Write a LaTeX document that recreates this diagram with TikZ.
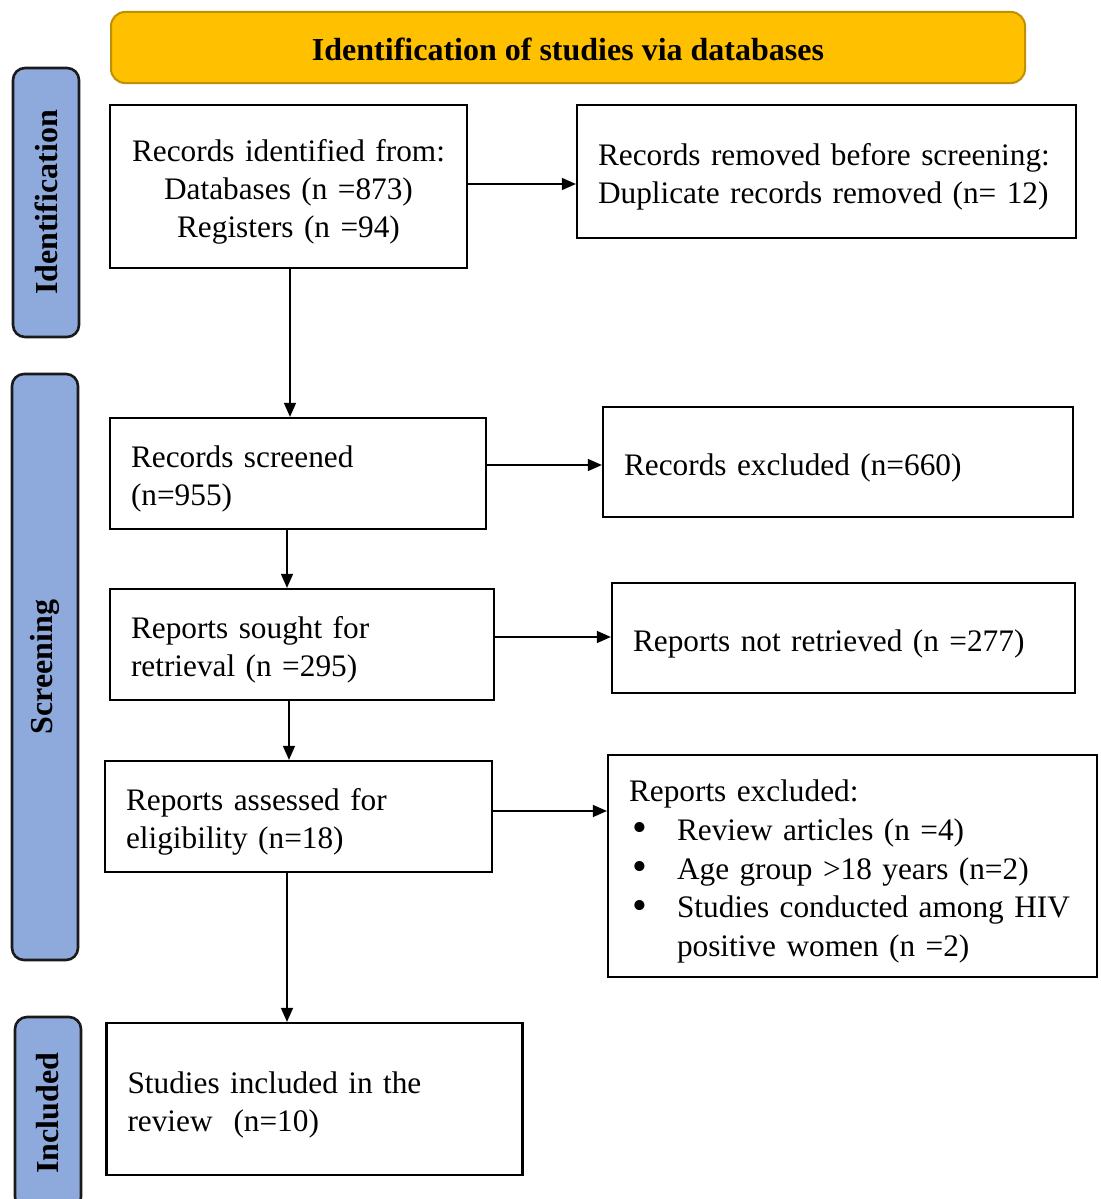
\documentclass[tikz,border=0pt]{standalone}
\usepackage{fontspec}
\setmainfont{Liberation Serif}
\usetikzlibrary{arrows.meta}
\definecolor{hdrfill}{HTML}{FFC000}
\definecolor{hdrdraw}{HTML}{BF9000}
\definecolor{sidefill}{HTML}{8EA9DB}
\definecolor{sidedraw}{HTML}{1A1A1A}
\tikzset{
  box/.style={draw=black, line width=2.2pt, rectangle, inner xsep=21pt, inner ysep=0pt, align=left,
    font=\fontsize{31.3}{38.2}\selectfont, execute at begin node={\rule{0pt}{33pt}}},
  side/.style={draw=sidedraw, fill=sidefill, line width=2.6pt, rounded corners=12pt, rotate=90,
    minimum height=66pt, inner sep=0pt, font=\fontsize{32}{38}\selectfont\bfseries},
  hdr/.style={draw=hdrdraw, fill=hdrfill, line width=2pt, rounded corners=14pt,
    minimum width=914pt, minimum height=71pt, text height=27pt, text depth=0pt,
    font=\fontsize{32}{38}\selectfont\bfseries},
  arr/.style={line width=1.4pt, -{Triangle[length=14pt,width=12pt]}},
}
\newcommand{\bul}{\hspace*{3pt}\makebox[45pt][l]{\raisebox{-1.5pt}{\scalebox{1.35}{\textbullet}}}}
\begin{document}
\begin{tikzpicture}[x=1pt,y=-1pt]
\clip (0,0) rectangle (1100,1199);
\fill[white] (0,0) rectangle (1100,1199);
\node[hdr] (hdr) at (568,47.5) {Identification of studies via databases};
\node[side, minimum width=269pt] (sid) at (46,202.5) {Identification};
\node[side, minimum width=586pt] (sscr) at (45,667) {Screening};
\node[side, minimum width=192pt] (sinc) at (48,1113) {Included};

\node[box, align=center, text width=315pt, minimum height=163pt] (b1) at (288.5,186.5)
  {\mbox{Records identified from:}\\ \mbox{Databases (n =873)}\\ \mbox{Registers (n =94)}};
\node[box, text width=457pt, minimum height=133pt] (b2) at (826.5,171.5)
  {\mbox{Records removed before screening:}\\\mbox{Duplicate records removed (n= 12)}};
\node[box, text width=334pt, minimum height=111pt] (b3) at (298,473.5)
  {\mbox{Records screened}\\\mbox{(n=955)}};
\node[box, text width=428pt, minimum height=110pt] (b4) at (838,462)
  {\mbox{Records excluded (n=660)}};
\node[box, text width=342pt, minimum height=111pt] (b5) at (302,644.5)
  {\mbox{Reports sought for}\\\mbox{retrieval (n =295)}};
\node[box, text width=421pt, minimum height=110pt] (b6) at (843.5,638)
  {\mbox{Reports not retrieved (n =277)}};
\node[box, text width=345pt, minimum height=111pt] (b7) at (298.5,816.5)
  {\mbox{Reports assessed for}\\\mbox{eligibility (n=18)}};
\node[box, text width=447pt, minimum height=222pt, font=\fontsize{31.3}{38.8}\selectfont] (b8) at (852.5,866)
  {\mbox{Reports excluded:}\\
   \mbox{\bul Review articles (n =4)}\\
   \mbox{\bul Age group >18 years (n=2)}\\
   \mbox{\bul Studies conducted among HIV}\\
   \mbox{\hspace*{48pt}positive women (n =2)}};
\node[box, text width=374pt, minimum height=152pt] (b9) at (314.5,1099)
  {\mbox{Studies included in the}\\\mbox{review \ (n=10)}};

\draw[arr] ([yshift=2.5pt]b1.east) -- ([yshift=2.5pt]b1.east -| b2.west);
\draw[arr] ([yshift=8.5pt]b3.east) -- ([yshift=8.5pt]b3.east -| b4.west);
\draw[arr] ([yshift=7.5pt]b5.east) -- ([yshift=7.5pt]b5.east -| b6.west);
\draw[arr] ([yshift=5.5pt]b7.east) -- ([yshift=5.5pt]b7.east -| b8.west);

\draw[arr] ([xshift=1.5pt]b1.south) -- ([xshift=1.5pt]b1.south |- b3.north);
\draw[arr] ([xshift=-11pt]b3.south) -- ([xshift=-11pt]b3.south |- b5.north);
\draw[arr] ([xshift=-13pt]b5.south) -- ([xshift=-13pt]b5.south |- b7.north);
\draw[arr] ([xshift=-11.5pt]b7.south) -- ([xshift=-11.5pt]b7.south |- b9.north);
\end{tikzpicture}
\end{document}
